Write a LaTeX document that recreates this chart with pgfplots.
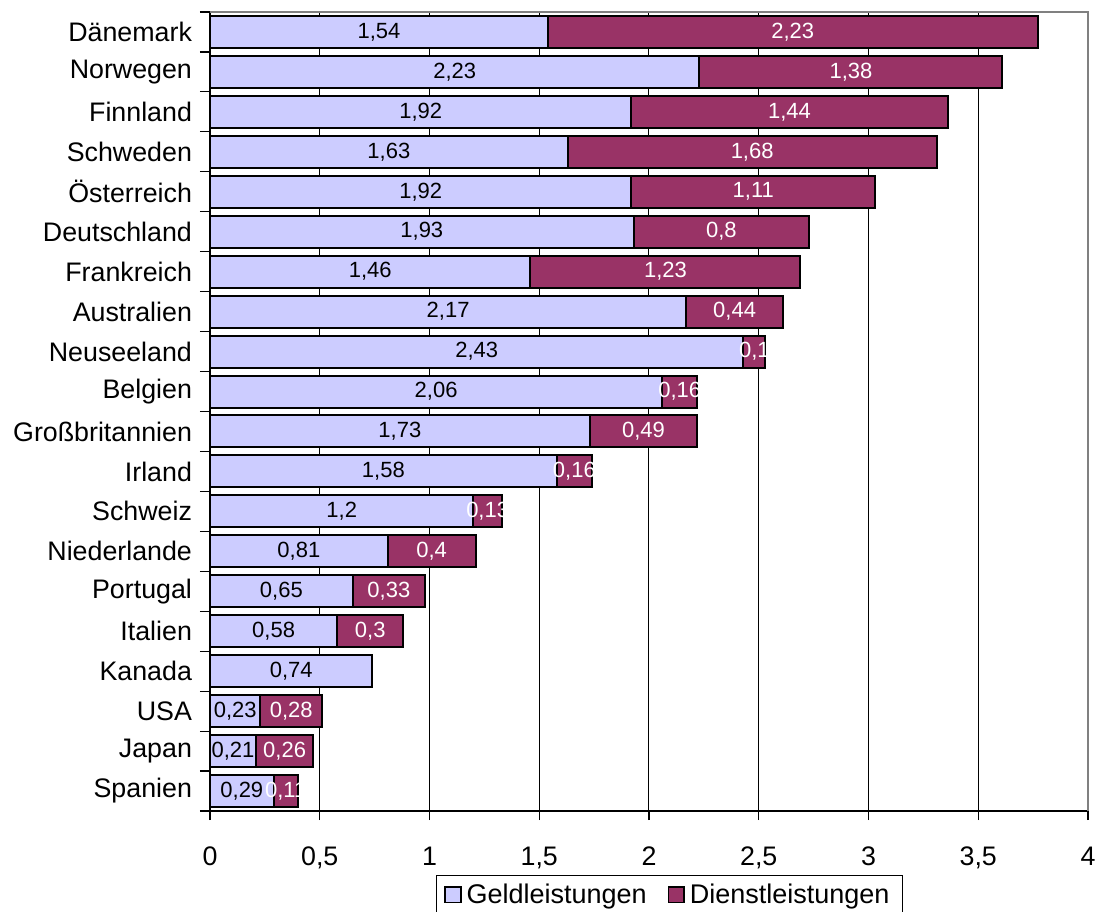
\documentclass[border=0pt]{standalone}
\usepackage{fontspec}
\setmainfont{Liberation Sans}
\usepackage{pgfplots}
\pgfplotsset{compat=1.18}
\usepackage{pgfplotstable}
\definecolor{geld}{RGB}{204,204,255}
\definecolor{dienst}{RGB}{153,51,102}
\definecolor{frame}{RGB}{128,128,128}

\pgfplotstableread{
y geld dienst
0 0.29 0.11
1 0.21 0.26
2 0.23 0.28
3 0.74 0
4 0.58 0.3
5 0.65 0.33
6 0.81 0.4
7 1.2 0.13
8 1.58 0.16
9 1.73 0.49
10 2.06 0.16
11 2.43 0.1
12 2.17 0.44
13 1.46 1.23
14 1.93 0.8
15 1.92 1.11
16 1.63 1.68
17 1.92 1.44
18 2.23 1.38
19 1.54 2.23
}\datatable

\begin{document}
\begin{tikzpicture}
\begin{axis}[
  at={(105pt,50pt)}, anchor=south west,
  scale only axis, width=439pt, height=399.5pt,
  xmin=0, xmax=4, ymin=-0.5, ymax=19.5,
  xbar stacked, bar width=16pt,
  clip=false,
  axis x line*=bottom, axis y line*=left,
  axis line style={black, line width=0.8pt},
  xtick={0,0.5,...,4},
  ytick={0,...,19},
  yticklabels={Spanien,Japan,USA,Kanada,Italien,Portugal,Niederlande,Schweiz,Irland,Großbritannien,Belgien,Neuseeland,Australien,Frankreich,Deutschland,Österreich,Schweden,Finnland,Norwegen,Dänemark},
  minor ytick={-0.5,0.5,...,19.5},
  tick align=outside,
  major tick length=4.5pt, minor tick length=5pt,
  major y tick style={draw=none},
  minor y tick style={black, line width=0.6pt},
  major x tick style={black, line width=0.6pt},
  xmajorgrids,
  major grid style={black, line width=0.5pt},
  /pgf/number format/.cd, use comma, 1000 sep={}, assume math mode=true,
  /pgfplots/.cd,
  tick label style={font=\fontsize{13.4}{16}\selectfont},
  xticklabel style={yshift=-10pt},
  yticklabel style={xshift=-1pt},
  nodes near coords={\pgfmathfloatifflags{\pgfplotspointmeta}{0}{}{\pgfmathprintnumber{\pgfplotspointmeta}}},
  legend columns=2,
  legend style={at={(axis description cs:0.5233,-0.08)}, anchor=north, draw=black, line width=0.6pt,
    font=\fontsize{13.5}{16}\selectfont, inner xsep=4pt,
    nodes={inner xsep=2.5pt},
    /tikz/every even column/.append style={column sep=8pt}},
  legend image code/.code={\draw[#1, draw=black, line width=0.8pt] (0pt,-3.8pt) rectangle (7.8pt,3.8pt);},
]
\addplot[fill=geld, draw=black, line width=1pt,
  point meta=\thisrow{geld},
  every node near coord/.append style={anchor=center, text=black, font=\fontsize{11}{13}\selectfont}]
  table[x=geld, y=y] {\datatable};
\addplot[fill=dienst, draw=black, line width=1pt,
  point meta=\thisrow{dienst},
  every node near coord/.append style={anchor=center, text=white, font=\fontsize{11}{13}\selectfont}]
  table[x=dienst, y=y] {\datatable};
\legend{Geldleistungen, Dienstleistungen}
\draw[frame, line width=1pt] (rel axis cs:0,1) -- (rel axis cs:1,1) -- (rel axis cs:1,0);
\end{axis}
\pgfresetboundingbox
\useasboundingbox (0,0) rectangle (549pt,455.5pt);
\end{tikzpicture}
\end{document}
